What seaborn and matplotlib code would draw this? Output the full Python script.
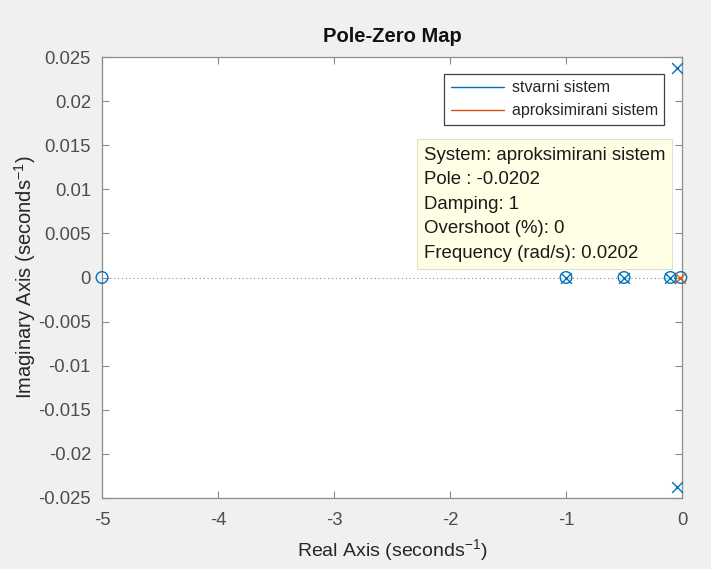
import numpy as np
import pandas as pd
import matplotlib
matplotlib.use("Agg")
import matplotlib.pyplot as plt
from matplotlib.lines import Line2D
from matplotlib.ticker import FuncFormatter
import seaborn as sns

# ---- data ----
series_names = ["stvarni sistem", "aproksimirani sistem"]
real_zeros_re = [-5.0, -1.0, -0.5, -0.1, -0.01]
real_zeros_im = [0.0, 0.0, 0.0, 0.0, 0.0]
real_poles_re = [-1.0, -0.5, -0.1, -0.04, -0.04]
real_poles_im = [0.0, 0.0, 0.0, 0.02375, -0.02375]
approx_poles_re = [-0.0202]
approx_poles_im = [0.0]
x_ticks = [-5, -4, -3, -2, -1, 0]
y_ticks = [-0.025, -0.02, -0.015, -0.01, -0.005, 0, 0.005, 0.01, 0.015, 0.02, 0.025]
tip_lines = ["System: aproksimirani sistem", "Pole : -0.0202", "Damping: 1",
             "Overshoot (%): 0", "Frequency (rad/s): 0.0202"]

blue = "#0072BD"
orange = "#D95319"

sns.set_style("ticks")
plt.rcParams['font.family'] = ['Liberation Sans', 'DejaVu Sans']
plt.rcParams['mathtext.default'] = 'regular'

fig = plt.figure(figsize=(7.11, 5.69), dpi=100, facecolor="#f0f0f0")
ax = fig.add_axes([102/711, 1-498/569, 580/711, 441/569])
ax.set_facecolor("white")

ax.plot([-5, 0], [0, 0], linestyle=(0, (1, 2.5)), color="#909090", lw=0.8, zorder=1)

dz = pd.DataFrame({"re": real_zeros_re, "im": real_zeros_im})
dp = pd.DataFrame({"re": real_poles_re, "im": real_poles_im})
da = pd.DataFrame({"re": approx_poles_re, "im": approx_poles_im})

sns.scatterplot(data=dz, x="re", y="im", ax=ax, marker="o", s=70,
                facecolors="none", edgecolor=blue, linewidth=1.0, zorder=3, clip_on=False)
sns.scatterplot(data=dp, x="re", y="im", ax=ax, marker="x", s=60,
                color=blue, linewidth=1.0, zorder=3, clip_on=False)
sns.scatterplot(data=da, x="re", y="im", ax=ax, marker="x", s=60,
                color=orange, linewidth=1.0, zorder=4, clip_on=False)

ax.set_xlim(-5, 0)
ax.set_ylim(-0.025, 0.025)
ax.set_xticks(x_ticks)
ax.set_yticks(y_ticks)
ax.yaxis.set_major_formatter(FuncFormatter(lambda v, p: "%g" % round(v, 4)))
ax.xaxis.set_major_formatter(FuncFormatter(lambda v, p: "%g" % v))
ax.tick_params(direction="in", length=5, width=0.8, colors="#8c8c8c",
               labelcolor="#4d4d4d", labelsize=13.3, top=True, right=True)
ax.tick_params(axis="x", pad=10)
ax.tick_params(axis="y", pad=8)
for sp in ax.spines.values():
    sp.set_visible(True)
    sp.set_color("#8c8c8c")
    sp.set_linewidth(0.9)

ax.set_xlabel("Real Axis (seconds$^{-1}$)", fontsize=14, color="#262626", labelpad=6)
ax.set_ylabel("Imaginary Axis (seconds$^{-1}$)", fontsize=14.5, color="#262626", labelpad=0)
ax.set_title("Pole-Zero Map", fontsize=14.5, fontweight="bold", color="#111111", pad=11)

handles = [Line2D([], [], color=blue, lw=1), Line2D([], [], color=orange, lw=1)]
leg = ax.legend(handles, series_names, loc="upper right", bbox_to_anchor=(0.969, 0.962),
                fancybox=False, framealpha=1, edgecolor="#404040", fontsize=11.5,
                handlelength=3.3, borderpad=0.4, labelspacing=0.5, handletextpad=0.5,
                borderaxespad=0)
leg.get_frame().set_linewidth(0.9)

ax.text(0.555, 0.797, "\n".join(tip_lines), transform=ax.transAxes, fontsize=13.4,
        color="#1a1a1a", va="top", ha="left", linespacing=1.58, zorder=5,
        bbox=dict(boxstyle="square,pad=0.38", facecolor="#ffffe6", edgecolor="#e0e0cc", lw=0.8))

fig.savefig("out.png", dpi=100, facecolor=fig.get_facecolor())
